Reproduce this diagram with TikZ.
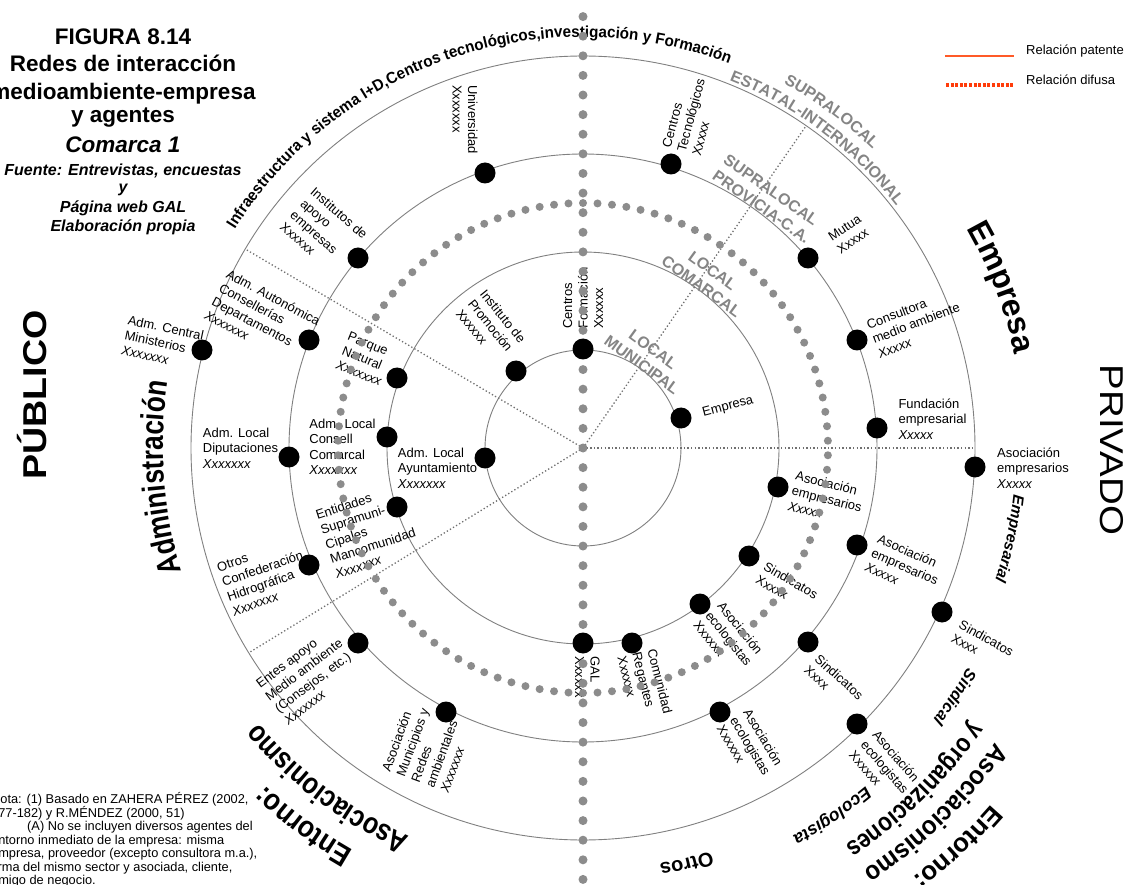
\documentclass[tikz,border=0pt]{standalone}
\usepackage{fontspec}
\setmainfont{Liberation Sans}
\newfontfamily\strA[FakeStretch=0.95]{Liberation Sans}
\newfontfamily\strB[FakeStretch=0.82]{Liberation Sans}
\newfontfamily\strC[FakeStretch=0.85]{Liberation Sans}
\newfontfamily\strD[FakeStretch=0.93]{Liberation Sans}
\newfontfamily\strE[FakeStretch=0.88]{Liberation Sans}
\newfontfamily\strF[FakeStretch=0.83]{Liberation Sans}
\usetikzlibrary{decorations.text}
\definecolor{ringgray}{HTML}{808080}
\definecolor{dotgray}{HTML}{8C8C8C}
\definecolor{radgray}{HTML}{707070}
\definecolor{lblgray}{HTML}{858585}
\definecolor{legred}{HTML}{FF5A28}
\definecolor{legdot}{HTML}{FF3C0A}
\newcommand\arcText[5]{%
  \path[decorate,decoration={text along path,text align=center,text={|#4|#5}}]
    ({#2+#3}:#1) arc[start angle={#2+#3},end angle={#2-#3},radius=#1];}
\tikzset{
  ring/.style={draw=ringgray,line width=0.9pt},
  radial/.style={draw=radgray,line width=1.3pt,dash pattern=on 1.3pt off 2.3pt},
  agent/.style={circle,fill=black,minimum size=21pt,inner sep=0pt},
  lab/.style={font=\fontsize{13}{15.5}\selectfont,align=left,inner sep=0pt},
  ringlab/.style={font=\fontsize{16}{19}\selectfont\bfseries,text=lblgray,inner sep=0pt},
  ttl/.style={font=\fontsize{22.5}{27}\selectfont\bfseries,anchor=base,inner sep=0pt},
  ttlit/.style={font=\fontsize{22.5}{27}\selectfont\bfseries\itshape,anchor=base,inner sep=0pt},
  src/.style={font=\fontsize{16}{19}\selectfont\bfseries\itshape,anchor=base,inner sep=0pt},
  note/.style={font=\fontsize{12.8}{15}\selectfont,anchor=base west,inner sep=0pt},
  legtext/.style={font=\fontsize{13}{15}\selectfont,anchor=west,inner sep=0pt},
  legsolid/.style={draw=legred,line width=1.6pt},
  legdotted/.style={draw=legdot,line width=3.4pt,dash pattern=on 3pt off 1.6pt},
}
\begin{document}
\begin{tikzpicture}[x=1pt,y=1pt]
\fill[white] (0,-885) rectangle (1144,0);
\useasboundingbox (0,-885) rectangle (1144,0);

% ---------- rings and radial lines (centre-based) ----------
\begin{scope}[shift={(583,-448)}]
  \coordinate (O) at (0,0);
  \draw[ring] (O) circle (98);
  \draw[ring] (O) circle (196);
  \draw[ring] (O) circle (294);
  \draw[ring] (O) circle (392);
  \coordinate (rE) at (0:391);
  \coordinate (rNE) at (55.3:391);
  \coordinate (rNW) at (149.5:391);
  \coordinate (rSW) at (211.5:390);
  \draw[radial] (O) -- (rE);
  \draw[radial] (O) -- (rNE);
  \draw[radial] (O) -- (rNW);
  \draw[radial] (O) -- (rSW);
\end{scope}

% ---------- title ----------
\node[ttl] (t1) at (123,-45) {FIGURA 8.14};
\node[ttl] (t2) at (123,-72) {Redes de interacción};
\node[ttl] (t3) at (123,-100) {medioambiente-empresa};
\node[ttl] (t4) at (123,-123) {y agentes};
\node[ttlit] (t5) at (123,-153) {Comarca 1};
\node[src] (t6) at (123,-176) {Fuente: Entrevistas, encuestas};
\node[src] (t7) at (123,-193) {y};
\node[src] (t8) at (123,-213) {Página web GAL};
\node[src] (t9) at (123,-232) {Elaboración propia};

% ---------- legend ----------
\coordinate (ls1) at (945,-56);
\coordinate (ls2) at (1014,-56);
\coordinate (ld1) at (946,-85);
\coordinate (ld2) at (1013,-85);
\draw[legsolid] (ls1) -- (ls2);
\draw[legdotted] (ld1) -- (ld2);
\node[legtext] (lg1) at (1026,-51) {Relación patente};
\node[legtext] (lg2) at (1026,-80) {Relación difusa};

% ---------- note ----------
\node[note] (n1) at (-9,-803.5) {Nota: (1) Basado en ZAHERA PÉREZ (2002,};
\node[note] (n2) at (-9,-817) {177-182) y R.MÉNDEZ (2000, 51)};
\node[note] (n3) at (27,-830.5) {(A) No se incluyen diversos agentes del};
\node[note] (n4) at (-9,-844) {entorno inmediato de la empresa: misma};
\node[note] (n5) at (-9,-857.5) {empresa, proveedor (excepto consultora m.a.),};
\node[note] (n6) at (-9,-871) {firma del mismo sector y asociada, cliente,};
\node[note] (n7) at (-9,-884.5) {amigo de negocio.};

% ---------- big side words ----------
\node[inner sep=0pt,rotate=90,font=\fontsize{33}{38}\selectfont\bfseries] (pub) at (32,-395) {\scalebox{1.14}[1]{PÚBLICO}};
\node[inner sep=0pt,rotate=-90,font=\fontsize{33}{38}\selectfont] (priv) at (1112,-450) {\scalebox{1.165}[1]{PRIVADO}};

% ---------- ring labels (gray) ----------
\node[ringlab,align=center,rotate=-36] (rl1) at (647.5,-357) {LOCAL\\MUNICIPAL};
\node[ringlab,align=center,rotate=-36] (rl2) at (707,-278.5) {LOCAL\\COMARCAL};
\node[ringlab,align=left,rotate=-35] (rl3) at (767,-199) {SUPRALOCAL\\PROVICIA-C.A.};

% ---------- texts along arcs ----------
\begin{scope}[shift={(583,-448)}]
  \arcText{411}{108.5}{50}{\strA\fontsize{16}{19}\selectfont\bfseries}{Infraestructura y sistema I+D,Centros tecnológicos,investigación y Formación}
  \arcText{396}{53}{25}{\color{lblgray}\fontsize{16}{19}\selectfont\bfseries}{ESTATAL-INTERNACIONAL}
  \arcText{416}{53.5}{15}{\color{lblgray}\fontsize{16}{19}\selectfont\bfseries}{SUPRALOCAL}
  \arcText{442}{21}{20}{\fontsize{32}{36}\selectfont\bfseries}{Empresa}
  \arcText{420}{184}{25}{\strB\fontsize{32}{36}\selectfont\bfseries}{Administración}
  \arcText{463.5}{233.5}{20}{\strE\fontsize{30}{34}\selectfont\bfseries}{Entorno:}
  \arcText{425.5}{233.1}{22}{\strF\fontsize{30}{34}\selectfont\bfseries}{Asociacionismo}
  \arcText{423}{284}{10}{\fontsize{20}{24}\selectfont\bfseries}{Otros}
  \arcText{433}{-12}{10}{\fontsize{15.5}{18}\selectfont\bfseries\itshape}{Empresarial}
  \arcText{443}{-33.8}{10}{\fontsize{16.4}{19}\selectfont\bfseries\itshape}{Sindical}
  \arcText{441}{-55.9}{12}{\fontsize{17.5}{20}\selectfont\bfseries\itshape}{Ecologista}
  \arcText{476}{-45.8}{15}{\strC\fontsize{26}{30}\selectfont\bfseries}{y organizaciones}
  \arcText{507}{-46}{15}{\strD\fontsize{26}{30}\selectfont\bfseries}{Asociacionismo}
  \arcText{542}{-46.8}{10}{\fontsize{26}{30}\selectfont\bfseries}{Entorno:}
\end{scope}

% ---------- agent labels ----------
% ring 1
\node[lab,rotate=90] (Lcf) at (583,-298) {Centros\\Formación\\Xxxxxx};
\node[lab,rotate=-51] (Lip) at (491,-326) {Instituto de\\Promoción\\Xxxxxx};
\node[lab] (Lay) at (437.5,-468) {Adm. Local\\Ayuntamiento\\\textit{Xxxxxxx}};
\node[lab,rotate=15] (Lem) at (728,-407) {Empresa};
% ring 2
\node[lab,rotate=-22] (Lpn) at (365,-359) {Parque\\Natural\\\textit{Xxxxxxx}};
\node[lab] (Lcc) at (342.5,-447) {Adm. Local\\Consell\\Comarcal\\\textit{Xxxxxxx}};
\node[lab,rotate=18] (Len) at (368,-531) {Entidades\\Supramuni-\\Cipales\\Mancomunidad\\\textit{Xxxxxxx}};
\node[lab,rotate=-90] (Lgal) at (587.5,-677) {GAL\\Xxxxxx};
\node[lab,rotate=-76] (Lcr) at (645,-685) {Comunidad\\Regantes\\Xxxxxx};
\node[lab,rotate=-51] (Lae2) at (729,-638.5) {Asociación\\ecologistas\\Xxxxxx};
\node[lab,rotate=-30] (Lsi2) at (787,-587) {Sindicatos\\Xxxxx};
\node[lab,rotate=-14] (Las2) at (827,-499) {Asociación\\empresarios\\\textit{Xxxxx}};
% ring 3
\node[lab,rotate=-90] (Lun) at (465,-119.5) {Universidad\\Xxxxxxx};
\node[lab,rotate=75] (Lct) at (691,-115) {Centros\\Tecnológicos\\Xxxxx};
\node[lab,rotate=-41] (Lia) at (324,-230.5) {Institutos de\\apoyo\\empresas\\Xxxxxx};
\node[lab,rotate=34] (Lmu) at (849,-234) {Mutua\\Xxxxx};
\node[lab,rotate=21] (Lco) at (916,-323) {Consultora\\medio ambiente\\\textit{Xxxxx}};
\node[lab] (Lfu) at (932.5,-419) {Fundación\\empresarial\\\textit{Xxxxx}};
\node[lab,rotate=-24] (Las3) at (905,-566.6) {Asociación\\empresarios\\\textit{Xxxxx}};
\node[lab,rotate=-42] (Lsi3) at (834,-682.6) {Sindicatos\\Xxxx};
\node[lab,rotate=-59] (Lae3) at (750.5,-746) {Asociación\\ecologistas\\Xxxxxx};
\node[lab,rotate=70] (Lam) at (427,-748) {Asociación\\Municipios y\\Redes\\ambientales\\\textit{Xxxxxxx}};
\node[lab,rotate=37] (Lent) at (308.6,-675.8) {Entes apoyo\\Medio ambiente\\(Consejos, etc.)\\\textit{Xxxxxxx}};
\node[lab,rotate=19] (Lot) at (265,-576) {Otros\\Confederación\\Hidrográfica\\\textit{Xxxxxxx}};
\node[lab] (Ldi) at (240.5,-448) {Adm. Local\\Diputaciones\\\textit{Xxxxxxx}};
\node[lab,rotate=-28] (Laa) at (262.5,-318) {Adm. Autonómica\\Consellerías\\Departamentos\\\textit{Xxxxxxx}};
% ring 4
\node[lab,rotate=-12] (Lac) at (162.7,-343) {Adm. Central\\Ministerios\\\textit{Xxxxxxx}};
\node[lab] (Las4) at (1033,-468) {Asociación\\empresarios\\\textit{Xxxxx}};
\node[lab,rotate=-29] (Lsi4) at (982.7,-645) {Sindicatos\\Xxxx};
\node[lab,rotate=-49] (Lae4) at (885,-767) {Asociación\\ecologistas\\Xxxxxx};

% ---------- gray dotted axis and dotted circle ----------
\begin{scope}[shift={(583,-448)}]
  \foreach \k in {-22,...,22} \fill[dotgray] (0,\k*19.61) circle (4.5);
  \foreach \i in {0,...,105} \fill[dotgray] ({90+\i*3.3962264}:245) circle (4);
\end{scope}

% ---------- agents (black dots) ----------
\node[agent] (dcf) at (583,-349) {};
\node[agent] (dip) at (516,-371) {};
\node[agent] (day) at (485,-458) {};
\node[agent] (dem) at (681,-418) {};
\node[agent] (dpn) at (397,-378) {};
\node[agent] (dcc) at (387,-437) {};
\node[agent] (den) at (397,-507) {};
\node[agent] (dgal) at (583,-643) {};
\node[agent] (dcr) at (632,-643) {};
\node[agent] (dae2) at (700,-604) {};
\node[agent] (dsi2) at (749,-556) {};
\node[agent] (das2) at (778,-487) {};
\node[agent] (dun) at (485,-173) {};
\node[agent] (dct) at (671,-164) {};
\node[agent] (dia) at (358,-258) {};
\node[agent] (dmu) at (808,-258) {};
\node[agent] (dco) at (857,-340) {};
\node[agent] (dfu) at (877,-428) {};
\node[agent] (daa) at (309,-340) {};
\node[agent] (ddi) at (289,-457) {};
\node[agent] (dot) at (309,-565) {};
\node[agent] (dent) at (358,-643) {};
\node[agent] (dam) at (446,-712) {};
\node[agent] (dae3) at (720,-712) {};
\node[agent] (dsi3) at (808,-642) {};
\node[agent] (das3) at (857,-545) {};
\node[agent] (dac) at (202,-350) {};
\node[agent] (das4) at (975,-467) {};
\node[agent] (dsi4) at (942,-612) {};
\node[agent] (dae4) at (857,-724) {};
\end{tikzpicture}
\end{document}
